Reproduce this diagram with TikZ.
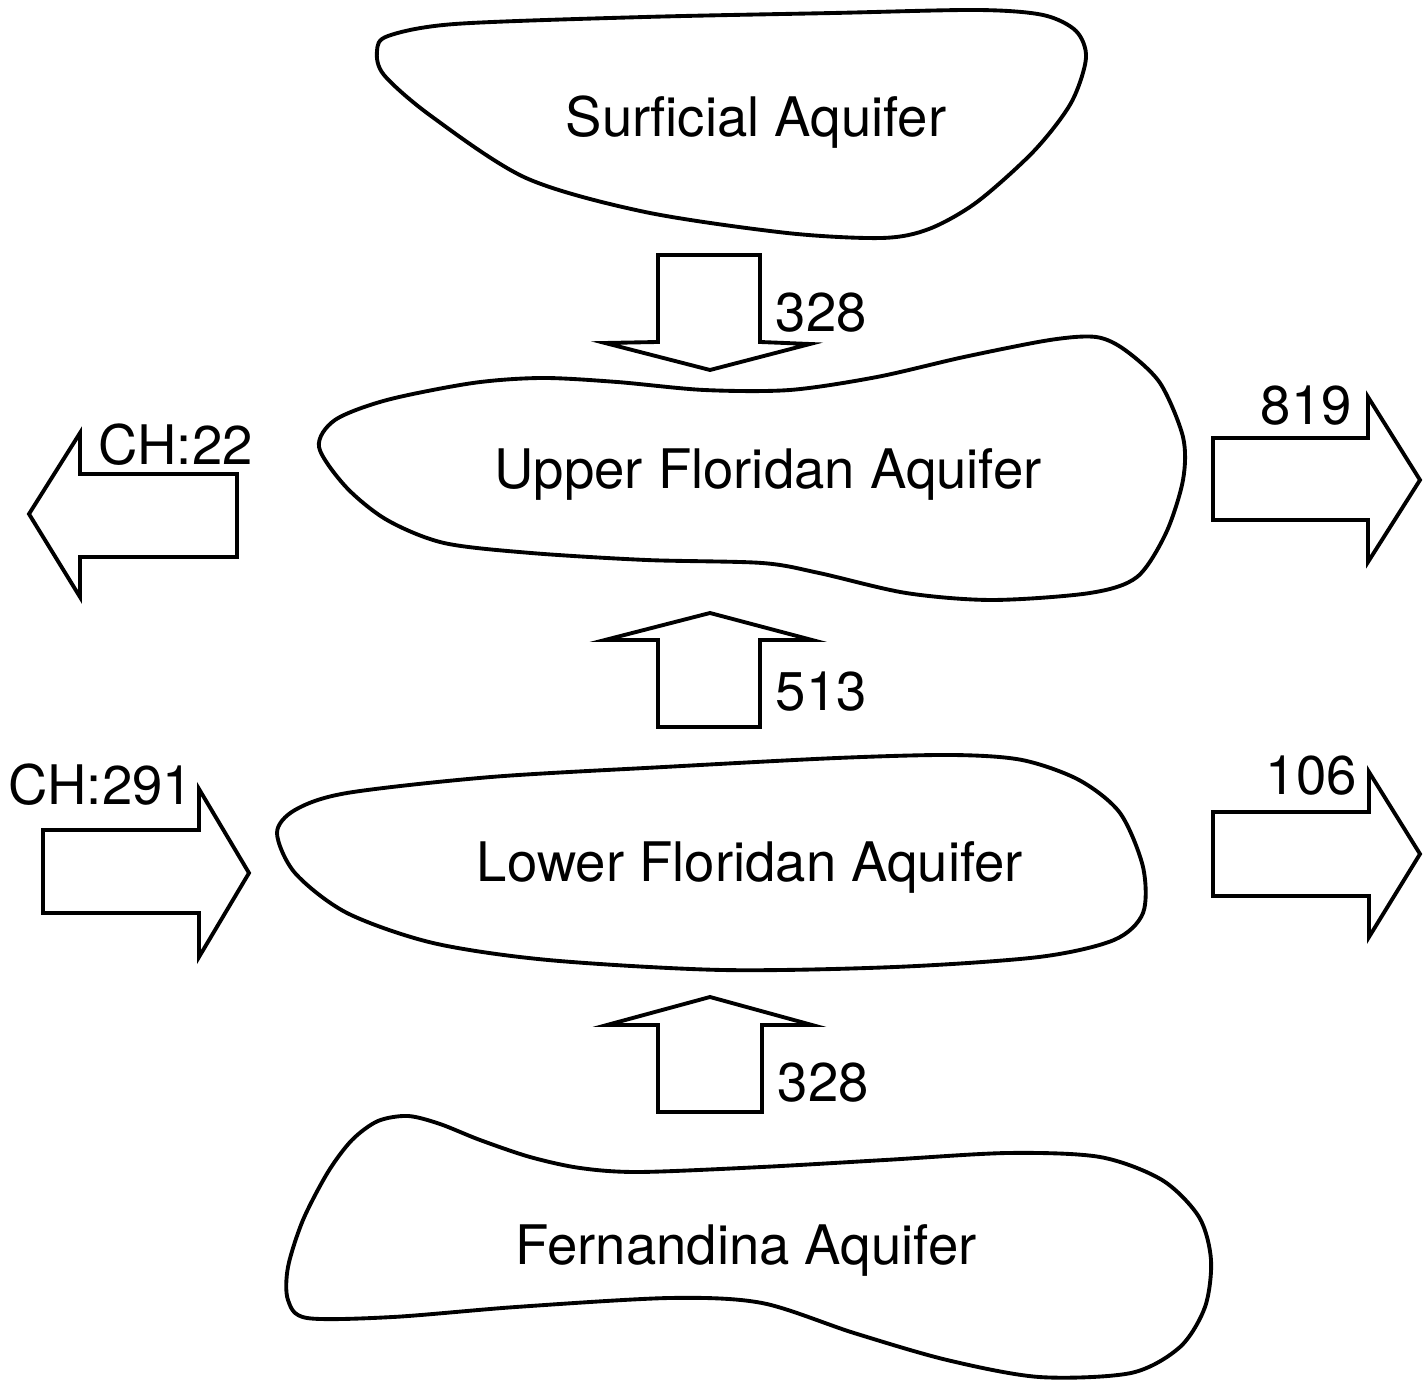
\documentclass[tikz,border=0pt]{standalone}
\usepackage{fontspec}
\setmainfont{TeX Gyre Heros}

\def\lw{1.1pt}

\begin{document}
\begin{tikzpicture}[
  x=0.01cm, y=-0.01cm,
  blob/.style={draw,line width=\lw,line join=round},
  flow/.style={draw,line width=\lw,line join=miter},
  aqname/.style={anchor=base,inner sep=0pt,font=\fontsize{15.5}{18}\selectfont},
  qty/.style={anchor=base west,inner sep=0pt,font=\fontsize{15.5}{18}\selectfont}
  ]
  \useasboundingbox (0,0) rectangle (1427,1380);

  % aquifer outlines
  \draw[blob] plot[smooth cycle] coordinates {
    (377,51) (388,36) (455,24) (645,17) (834,13) (977,10) (1043,15) (1076,31)
    (1086,58) (1071,103) (1034,151) (977,202) (929,229) (882,238) (787,233)
    (645,212) (526,178) (431,116) (384,75)};
  \draw[blob] plot[smooth cycle] coordinates {
    (319,447) (335,420) (387,400) (473,383) (542,378) (617,382) (704,390)
    (790,390) (877,377) (964,357) (1050,340) (1096,337) (1125,350) (1160,383)
    (1183,437) (1183,480) (1166,533) (1137,577) (1090,593) (992,600) (906,593)
    (819,573) (762,563) (646,560) (531,553) (444,543) (387,520) (346,487)};
  \draw[blob] plot[smooth cycle] coordinates {
    (277,833) (295,810) (347,793) (491,777) (664,767) (837,758) (952,755)
    (1022,760) (1079,780) (1120,813) (1143,867) (1143,913) (1114,940)
    (1039,957) (895,967) (722,970) (548,960) (433,943) (347,913) (295,873)};
  \draw[blob] plot[smooth cycle] coordinates {
    (352,1140) (378,1121) (408,1116) (440,1124) (480,1140) (530,1157)
    (580,1168) (639,1172) (762,1167) (885,1160) (1008,1153) (1100,1157)
    (1162,1180) (1199,1217) (1211,1260) (1205,1307) (1180,1347) (1131,1373)
    (1039,1377) (947,1360) (854,1333) (762,1303) (670,1298) (516,1307)
    (393,1317) (307,1318) (288,1300) (288,1267) (303,1220) (328,1172)};

  \node[aqname] (surf) at (756,137) {Surficial Aquifer};
  \node[aqname] (ufa) at (768,489) {Upper Floridan Aquifer};
  \node[aqname] (lfa) at (750,882) {Lower Floridan Aquifer};
  \node[aqname] (fern) at (746,1265) {Fernandina Aquifer};

  % vertical leakage
  \draw[flow] (658,255) -- (760,255) -- (760,342) -- (810,344) -- (710,370)
    -- (605,343) -- (658,342) -- cycle;
  \draw[flow] (710,613) -- (812,640) -- (760,640) -- (760,727) -- (658,727)
    -- (658,640) -- (605,640) -- cycle;
  \draw[flow] (710,997) -- (812,1025) -- (762,1025) -- (762,1112) -- (658,1112)
    -- (658,1025) -- (607,1025) -- cycle;
  \node[qty] (q328a) at (775,332) {328};
  \node[qty] (q513) at (775,711) {513};
  \node[qty] (q328b) at (777,1102) {328};

  % lateral flow
  \draw[flow] (29,514) -- (80,433) -- (80,474) -- (237,474) -- (237,557)
    -- (80,557) -- (80,597) -- cycle;
  \draw[flow] (1213,438) -- (1368,438) -- (1368,397) -- (1420,480) -- (1368,562)
    -- (1368,520) -- (1213,520) -- cycle;
  \draw[flow] (43,830) -- (199,830) -- (199,789) -- (249,873) -- (199,957)
    -- (199,913) -- (43,913) -- cycle;
  \draw[flow] (1213,812) -- (1369,812) -- (1369,772) -- (1420,854) -- (1369,937)
    -- (1369,896) -- (1213,896) -- cycle;
  \node[qty] (ch22) at (98,465) {CH:22};
  \node[qty] (q819) at (1260,425) {819};
  \node[qty] (ch291) at (8,805) {CH:291};
  \node[qty] (q106) at (1265,795) {106};
\end{tikzpicture}
\end{document}
